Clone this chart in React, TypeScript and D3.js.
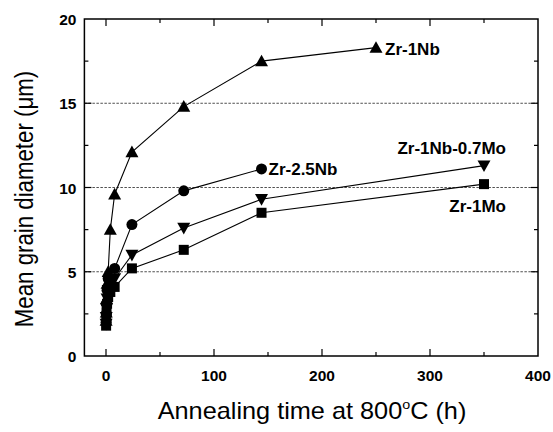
import React, { useEffect, useRef } from "react";
import * as d3 from "d3";

// annealing times (h) and mean grain diameters (um)
const nbTimes = [0.1, 0.25, 0.5, 1, 2, 4, 8, 24, 72, 144, 250];
const nbDiam = [2.1, 2.6, 3.4, 4.3, 5.0, 7.5, 9.6, 12.1, 14.8, 17.5, 18.3];

const nb25Times = [0.1, 0.25, 0.5, 1, 2, 8, 24, 72, 144];
const nb25Diam = [2.0, 2.5, 3.1, 3.9, 4.6, 5.2, 7.8, 9.8, 11.1];

const nbMoTimes = [0.1, 0.25, 0.5, 1, 2, 4, 8, 24, 72, 144, 350];
const nbMoDiam = [1.9, 2.3, 2.8, 3.4, 3.9, 4.3, 4.6, 6.0, 7.6, 9.3, 11.3];

const moTimes = [0.1, 0.25, 0.5, 1, 2, 4, 8, 24, 72, 144, 350];
const moDiam = [1.8, 2.2, 2.6, 3.1, 3.5, 3.8, 4.1, 5.2, 6.3, 8.5, 10.2];

const seriesNames = ["Zr-1Nb", "Zr-2.5Nb", "Zr-1Nb-0.7Mo", "Zr-1Mo"];
const xTicks = [0, 100, 200, 300, 400];
const yTicks = [0, 5, 10, 15, 20];
const gridValues = [5, 10, 15];

const App = () => {
  const ref = useRef<SVGSVGElement | null>(null);

  useEffect(() => {
    const svg = d3.select(ref.current);
    svg.selectAll("*").remove();

    const x = d3.scaleLinear().domain([-20, 400]).range([84.4, 538]);
    const y = d3.scaleLinear().domain([0, 20]).range([356, 19]);
    const [x0, x1] = x.range();
    const [y0, y1] = y.range();

    // dashed grid
    svg
      .selectAll("line.grid")
      .data(gridValues)
      .enter()
      .append("line")
      .attr("x1", x0)
      .attr("x2", x1)
      .attr("y1", (d) => y(d))
      .attr("y2", (d) => y(d))
      .attr("stroke", "#222")
      .attr("stroke-width", 0.8)
      .attr("stroke-dasharray", "2.5,1.5");

    const series = [
      { name: seriesNames[0], t: nbTimes, v: nbDiam, sym: "up" },
      { name: seriesNames[1], t: nb25Times, v: nb25Diam, sym: "circle" },
      { name: seriesNames[2], t: nbMoTimes, v: nbMoDiam, sym: "down" },
      { name: seriesNames[3], t: moTimes, v: moDiam, sym: "square" },
    ];

    const drawOrder = [3, 2, 1, 0];
    drawOrder.forEach((i) => {
      const s = series[i];
      const pts = s.t.map((t, j) => [x(t), y(s.v[j])] as [number, number]);
      svg
        .append("path")
        .attr("d", d3.line()(pts))
        .attr("fill", "none")
        .attr("stroke", "#000")
        .attr("stroke-width", 1.1);
    });
    drawOrder.forEach((i) => {
      const s = series[i];
      s.t.forEach((t, j) => {
        const cx = x(t);
        const cy = y(s.v[j]);
        if (s.sym === "circle") {
          svg.append("circle").attr("cx", cx).attr("cy", cy).attr("r", 5.5).attr("fill", "#000");
        } else if (s.sym === "square") {
          svg
            .append("rect")
            .attr("x", cx - 5)
            .attr("y", cy - 5)
            .attr("width", 10)
            .attr("height", 10)
            .attr("fill", "#000");
        } else {
          const h = 6.5;
          const dir = s.sym === "up" ? 1 : -1;
          const p = d3.path();
          p.moveTo(cx, cy - dir * h);
          p.lineTo(cx + h, cy + dir * h * 0.8);
          p.lineTo(cx - h, cy + dir * h * 0.8);
          p.closePath();
          svg.append("path").attr("d", p.toString()).attr("fill", "#000");
        }
      });
    });

    // frame
    svg
      .append("rect")
      .attr("x", x0)
      .attr("y", y1)
      .attr("width", x1 - x0)
      .attr("height", y0 - y1)
      .attr("fill", "none")
      .attr("stroke", "#000")
      .attr("stroke-width", 1.5);

    // inward ticks on all four sides
    const xMinor = d3.range(0, 400, 50);
    const yMinor = d3.range(2.5, 20, 2.5);
    xMinor.forEach((v) => {
      const len = v % 100 === 0 ? 7 : 4;
      svg.append("line").attr("x1", x(v)).attr("x2", x(v)).attr("y1", y0).attr("y2", y0 - len).attr("stroke", "#000").attr("stroke-width", 1.2);
      svg.append("line").attr("x1", x(v)).attr("x2", x(v)).attr("y1", y1).attr("y2", y1 + len).attr("stroke", "#000").attr("stroke-width", 1.2);
    });
    yMinor.forEach((v) => {
      const len = v % 5 === 0 ? 7 : 4;
      svg.append("line").attr("x1", x0).attr("x2", x0 + len).attr("y1", y(v)).attr("y2", y(v)).attr("stroke", "#000").attr("stroke-width", 1.2);
      svg.append("line").attr("x1", x1).attr("x2", x1 - len).attr("y1", y(v)).attr("y2", y(v)).attr("stroke", "#000").attr("stroke-width", 1.2);
    });

    const font = "Liberation Sans, Arial, sans-serif";
    svg
      .selectAll("text.xt")
      .data(xTicks)
      .enter()
      .append("text")
      .attr("x", (d) => x(d))
      .attr("y", y0 + 25)
      .attr("text-anchor", "middle")
      .attr("font-family", font)
      .attr("font-weight", "bold")
      .attr("font-size", 15.5)
      .text((d) => d);
    svg
      .selectAll("text.yt")
      .data(yTicks)
      .enter()
      .append("text")
      .attr("x", x0 - 8)
      .attr("y", (d) => y(d) + 6)
      .attr("text-anchor", "end")
      .attr("font-family", font)
      .attr("font-weight", "bold")
      .attr("font-size", 15.5)
      .text((d) => d);

    const xt = svg
      .append("text")
      .attr("transform", "translate(312,419) scale(1.1,1)")
      .attr("text-anchor", "middle")
      .attr("font-family", font)
      .attr("font-size", 23);
    xt.append("tspan").text("Annealing time at 800");
    xt.append("tspan").attr("font-size", 13).attr("dy", -10).text("o");
    xt.append("tspan").attr("dy", 10).text("C (h)");

    svg
      .append("text")
      .attr("transform", "translate(33,199) rotate(-90) scale(0.89,1)")
      .attr("text-anchor", "middle")
      .attr("font-family", font)
      .attr("font-size", 25)
      .text("Mean grain diameter (\u03bcm)");

    // series labels
    const labels = [
      { text: seriesNames[0], t: 250, v: 18.3, dx: 9, dy: 7, anchor: "start" },
      { text: seriesNames[1], t: 144, v: 11.1, dx: 7, dy: 6, anchor: "start" },
      { text: seriesNames[2], t: 350, v: 11.3, dx: 22, dy: -11.5, anchor: "end" },
      { text: seriesNames[3], t: 350, v: 10.2, dx: 22, dy: 27.5, anchor: "end" },
    ];
    labels.forEach((l) => {
      svg
        .append("text")
        .attr("x", x(l.t) + l.dx)
        .attr("y", y(l.v) + l.dy)
        .attr("text-anchor", l.anchor)
        .attr("font-family", font)
        .attr("font-weight", "bold")
        .attr("font-size", 17)
        .text(l.text);
    });
  }, []);

  return <svg ref={ref} width={553} height={432} style={{ position: "absolute", left: 0, top: 0 }} />;
};

export default App;
